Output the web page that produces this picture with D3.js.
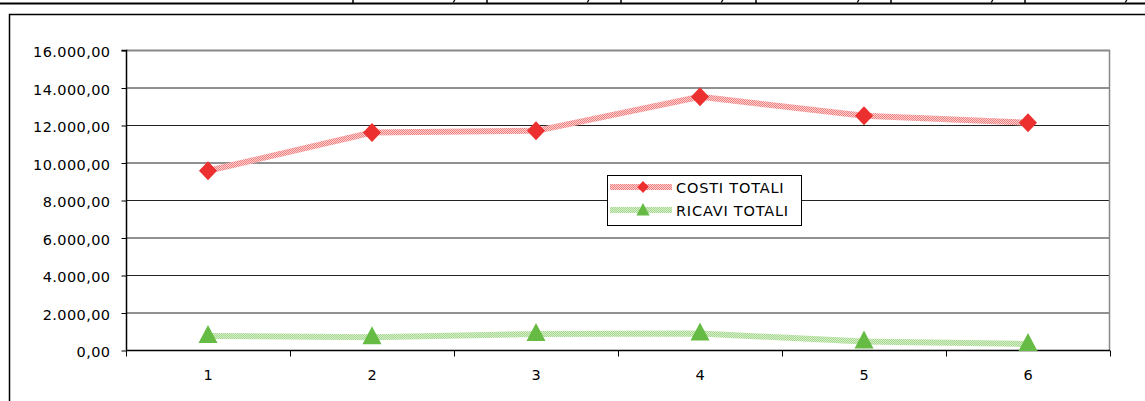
<!DOCTYPE html>
<html><head><meta charset="utf-8">
<script src="https://cdn.jsdelivr.net/npm/d3@7"></script>
<style>html,body{margin:0;padding:0;background:#fff;overflow:hidden}svg{display:block}</style>
</head><body>
<script>
const categories = [1, 2, 3, 4, 5, 6];
const costiTotali = [9560, 11600, 11690, 13510, 12490, 12120];
const ricaviTotali = [750, 680, 850, 880, 450, 320];
const yTicks = [0, 2000, 4000, 6000, 8000, 10000, 12000, 14000, 16000];
const seriesNames = ["COSTI TOTALI", "RICAVI TOTALI"];
const tableCols = [353, 487, 621, 756, 891, 1025];
const tableCommas = [454, 588, 722, 858, 992, 1126];

const W = 1145, H = 401;
const svg = d3.select("body").append("svg").attr("width", W).attr("height", H);
const font = "DejaVu Sans, Verdana, sans-serif";

const defs = svg.append("defs");
function pat(id, c1, c2) {
  const p = defs.append("pattern").attr("id", id).attr("width", 2).attr("height", 2).attr("patternUnits", "userSpaceOnUse");
  p.append("rect").attr("width", 2).attr("height", 2).attr("fill", c2);
  p.append("rect").attr("width", 1).attr("height", 1).attr("fill", c1);
  p.append("rect").attr("x", 1).attr("y", 1).attr("width", 1).attr("height", 1).attr("fill", c1);
}
pat("pr", "#f07f7f", "#fbd0d0");
pat("pg", "#a6d890", "#d6efca");

// top table remnant (bottom edge of a table above, clipped)
svg.append("line").attr("x1", 0).attr("x2", W).attr("y1", 3.5).attr("y2", 3.5).attr("stroke", "#000").attr("stroke-width", 2);
tableCols.forEach(x => {
  svg.append("line").attr("x1", x).attr("x2", x).attr("y1", 0).attr("y2", 4).attr("stroke", "#000").attr("stroke-width", 1.5);
});
tableCommas.forEach(x => {
  svg.append("path").attr("d", "M" + (x + 0.8) + ",0L" + (x - 0.8) + ",2.5").attr("stroke", "#000").attr("stroke-width", 1.3).attr("fill", "none");
});

// chart outer border
svg.append("rect").attr("x", 9.5).attr("y", 14.5).attr("width", W).attr("height", H).attr("fill", "#fff").attr("stroke", "#000").attr("stroke-width", 1.5);

const x = d3.scaleBand().domain(categories).range([126, 1110]);
const y = d3.scaleLinear().domain([0, 16000]).range([350, 50]);
const cx = d => x(d) + x.bandwidth() / 2;

svg.append("g").selectAll("line").data(yTicks.filter(t => t > 0 && t < 16000)).join("line")
  .attr("x1", 126).attr("x2", 1110).attr("y1", d => y(d) + 0.5).attr("y2", d => y(d) + 0.5)
  .attr("stroke", "#222").attr("stroke-width", 1);
svg.append("line").attr("x1", 126).attr("x2", 1110).attr("y1", y(16000) + 0.5).attr("y2", y(16000) + 0.5).attr("stroke", "#888").attr("stroke-width", 2);
svg.append("line").attr("x1", 1109.5).attr("x2", 1109.5).attr("y1", y(16000)).attr("y2", y(0)).attr("stroke", "#888").attr("stroke-width", 1.5);

// y axis
const yAxis = d3.axisLeft(y).tickValues(yTicks).tickSize(5).tickPadding(11)
  .tickFormat(d => d3.format(",.2f")(d).replace(/,/g, "#").replace(".", ",").replace(/#/g, "."));
const gy = svg.append("g").attr("transform", "translate(126.5,0.5)").call(yAxis);
gy.select(".domain").attr("stroke", "#000").attr("stroke-width", 1.5).attr("d", "M-5," + y(16000) + "H0V" + y(0));
gy.selectAll("text").attr("font-family", font).attr("font-size", "14.5px").attr("letter-spacing", "0.4px").attr("dy", "0.42em").attr("fill", "#000");
gy.selectAll(".tick line").attr("stroke", "#000");

// x axis
const xAxis = d3.axisBottom(x).tickSize(0).tickPadding(19);
const gx = svg.append("g").attr("transform", "translate(0," + (y(0) + 0.5) + ")").call(xAxis);
gx.select(".domain").attr("stroke", "#000").attr("stroke-width", 1.5).attr("d", "M126,0H1110");
gx.selectAll("text").attr("font-family", font).attr("font-size", "14.5px").attr("fill", "#000");
const bounds = categories.map(c => x(c)).concat([x(categories[categories.length - 1]) + x.bandwidth()]);
gx.append("g").selectAll("line").data(bounds).join("line")
  .attr("x1", d => d + 0.5).attr("x2", d => d + 0.5).attr("y1", 0).attr("y2", 6).attr("stroke", "#000");

// lines
const line = d3.line().x((d, i) => cx(categories[i])).y(d => y(d));
svg.append("path").attr("d", line(ricaviTotali)).attr("fill", "none").attr("stroke", "url(#pg)").attr("stroke-width", 6).attr("stroke-linejoin", "round");
svg.append("path").attr("d", line(costiTotali)).attr("fill", "none").attr("stroke", "url(#pr)").attr("stroke-width", 6).attr("stroke-linejoin", "round");

function diamondPath(s) { return "M0," + (-s) + "L" + (s * 0.95) + ",0L0," + s + "L" + (-s * 0.95) + ",0Z"; }
function triPath(s) { return "M0," + (-s) + "L" + (s * 0.95) + "," + (s * 0.8) + "L" + (-s * 0.95) + "," + (s * 0.8) + "Z"; }

svg.append("g").selectAll("path").data(costiTotali).join("path")
  .attr("transform", (d, i) => "translate(" + cx(categories[i]) + "," + y(d) + ")")
  .attr("d", diamondPath(9.5)).attr("fill", "#ec3030");
svg.append("g").selectAll("path").data(ricaviTotali).join("path")
  .attr("transform", (d, i) => "translate(" + cx(categories[i]) + "," + (y(d) - 1) + ")")
  .attr("d", triPath(10)).attr("fill", "#66bb44");

// legend
const lg = svg.append("g");
lg.append("rect").attr("x", 607.5).attr("y", 175.5).attr("width", 194).attr("height", 50).attr("fill", "#fff").attr("stroke", "#000").attr("stroke-width", 1);
const rows = [
  { name: seriesNames[0], pat: "url(#pr)", y: 187, mark: diamondPath(6), fill: "#ec3030" },
  { name: seriesNames[1], pat: "url(#pg)", y: 210, mark: triPath(7), fill: "#66bb44" }
];
rows.forEach(r => {
  lg.append("rect").attr("x", 610).attr("y", r.y - 3).attr("width", 62).attr("height", 6).attr("fill", r.pat);
  lg.append("path").attr("transform", "translate(643," + r.y + ")").attr("d", r.mark).attr("fill", r.fill);
  lg.append("text").attr("x", 676).attr("y", r.y + 6).attr("font-family", font).attr("font-size", "14.5px").attr("letter-spacing", "0.8px").attr("fill", "#000").text(r.name);
});
</script>
</body></html>
